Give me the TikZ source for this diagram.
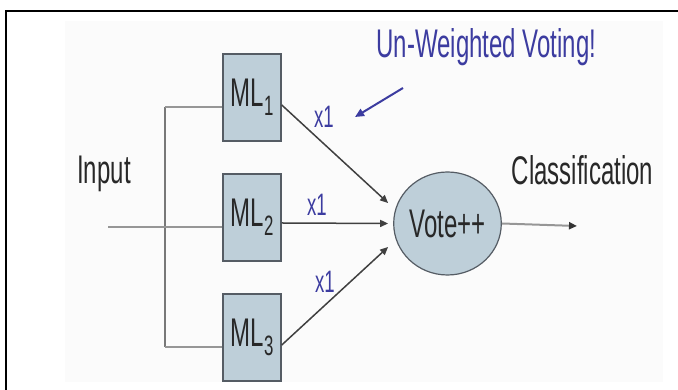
\documentclass[tikz,border=0pt]{standalone}
\usepackage{fontspec}
\newfontfamily\narrowsans[FakeStretch=0.6]{Liberation Sans}
\usetikzlibrary{arrows.meta,positioning,shapes.geometric}
\definecolor{boxfill}{RGB}{190,207,217}
\definecolor{boxline}{RGB}{85,92,100}
\definecolor{wireg}{RGB}{150,150,150}
\definecolor{votblue}{RGB}{60,60,160}
\definecolor{txtg}{RGB}{40,40,40}
\newcommand{\mlname}[1]{ML\raisebox{-9pt}{\fontsize{28}{28}\selectfont#1}}

\begin{document}
\begin{tikzpicture}[x=1pt, y=1pt, on grid, node distance=120pt, >={Triangle[length=8pt,width=7pt]},
  learner/.style={draw=boxline, line width=1.5pt, fill=boxfill, minimum width=58pt, minimum height=87pt, inner sep=0pt, text=txtg, font=\narrowsans\fontsize{40}{40}\selectfont},
  voter/.style={ellipse, draw=boxline, line width=1.2pt, fill=boxfill, minimum width=85pt, minimum height=103pt, inner sep=0pt, text=txtg, font=\narrowsans\fontsize{40}{40}\selectfont},
  lbl/.style={text=txtg, inner sep=0pt, font=\narrowsans\fontsize{40}{40}\selectfont},
  wt/.style={text=votblue, inner sep=0pt, font=\narrowsans\fontsize{31}{31}\selectfont},
  wire/.style={draw=wireg, line width=2pt},
  feed/.style={draw=black!75, line width=1.5pt, ->}]
\useasboundingbox (0,0) rectangle (678,390);
\fill[black!1.5] (65,8) rectangle (663,369);
\draw[line width=2.5pt] (6,0) -- (6,379) -- (678,379);
% learners and the vote
\node[learner] (ml1) at (252,292.5) {\mlname{1}};
\node[learner] (ml2) [below=of ml1] {\mlname{2}};
\node[learner] (ml3) [below=of ml2] {\mlname{3}};
\node[voter] (vote) at (447.5,166.5) {Vote++};
\node[lbl] (input) at (104,216) {Input};
\node[lbl] (cls) at (582.5,220) {Classification};
\node[lbl, text=votblue, anchor=base] (title) at (486.5,332) {Un-Weighted Voting!};
\node[wt] (w1) at (324,273) {x1};
\node[wt] (w2) at (317,185) {x1};
\node[wt] (w3) at (325,108) {x1};
% input fan-out
\coordinate (in) at (108,163);
\coordinate (bus1) at (165,283);
\coordinate (bus3) at (165,43);
\coordinate (out) at (577,164);
\coordinate (hint) at (403,302);
\draw[wireg!80!black, line width=1.2pt] (bus1) -- (bus3);
\path[wire] (in) -- ([yshift=-9.5pt]ml2.west)
  (bus1) -- ([yshift=-9.5pt]ml1.west)
  (bus3) -- ([yshift=-9.5pt]ml3.west);
% weighted inputs to the vote
\draw[feed] ([yshift=-7.5pt]ml1.east) -- ([shift={(-5pt,20.5pt)}]vote.west);
\draw[feed] ([yshift=-5.5pt]ml2.east) -- ([xshift=-5pt]vote.west);
\draw[feed] ([yshift=-7.5pt]ml3.east) -- ([shift={(-5pt,-23.5pt)}]vote.west);
\draw[wire, -{Triangle[length=8pt,width=7pt,color=black!80]}] (vote.east) -- (out);
\draw[votblue, line width=2pt, -{Triangle[length=9pt,width=8pt]}] (hint) -- ([xshift=21pt]w1.east);
\end{tikzpicture}
\end{document}
